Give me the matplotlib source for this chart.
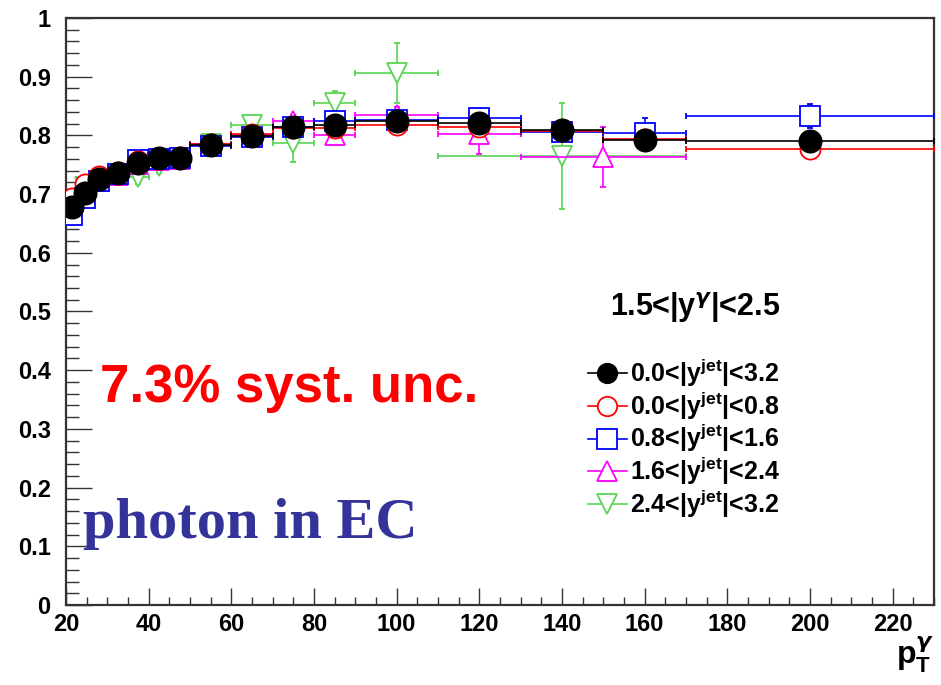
import matplotlib
matplotlib.use('Agg')
import numpy as np
import matplotlib.pyplot as plt
from matplotlib.lines import Line2D
from matplotlib.ticker import MultipleLocator

plt.rcParams['font.family'] = ['Liberation Sans', 'DejaVu Sans']
plt.rcParams['font.weight'] = 'bold'
plt.rcParams['mathtext.fontset'] = 'custom'
plt.rcParams['mathtext.rm'] = 'Liberation Sans:bold'
plt.rcParams['mathtext.bf'] = 'Liberation Sans:bold'
plt.rcParams['mathtext.it'] = 'DejaVu Sans:italic'

# bin edges (pT of photon) and values
edges_full = [20, 23, 26, 30, 35, 40, 45, 50, 60, 70, 80, 90, 110, 130, 150, 170, 230]
edges_mag = [20, 23, 26, 30, 35, 40, 45, 50, 60, 70, 80, 90, 110, 130, 170]
edges_green = [20, 23, 26, 30, 35, 40, 45, 50, 60, 70, 80, 90, 110, 170]

y_all = [0.678, 0.702, 0.726, 0.736, 0.753, 0.761, 0.761, 0.784, 0.799, 0.815,
         0.818, 0.825, 0.821, 0.809, 0.792, 0.790]
e_all = [0.004, 0.004, 0.004, 0.004, 0.004, 0.004, 0.004, 0.004, 0.005, 0.005,
         0.006, 0.006, 0.008, 0.008, 0.010, 0.008]

y_red = [0.693, 0.718, 0.730, 0.738, 0.757, 0.762, 0.763, 0.786, 0.802, 0.813,
         0.812, 0.818, 0.815, 0.807, 0.794, 0.777]
e_red = [0.006, 0.006, 0.006, 0.006, 0.006, 0.006, 0.006, 0.006, 0.007, 0.008,
         0.008, 0.009, 0.010, 0.012, 0.014, 0.010]

y_blue = [0.665, 0.694, 0.722, 0.735, 0.758, 0.760, 0.762, 0.782, 0.797, 0.815,
          0.825, 0.826, 0.830, 0.806, 0.804, 0.833]
e_blue = [0.008, 0.007, 0.006, 0.006, 0.006, 0.006, 0.006, 0.006, 0.008, 0.008,
          0.009, 0.010, 0.012, 0.015, 0.025, 0.020]

y_mag = [0.672, 0.700, 0.722, 0.733, 0.752, 0.758, 0.760, 0.785, 0.800, 0.825,
         0.800, 0.834, 0.803, 0.763]
e_mag = [0.008, 0.007, 0.007, 0.007, 0.007, 0.007, 0.007, 0.008, 0.009, 0.010,
         0.012, 0.014, 0.035, 0.051]

y_green = [0.685, 0.712, 0.722, 0.735, 0.729, 0.748, 0.758, 0.786, 0.818, 0.787,
           0.855, 0.906, 0.765]
e_green = [0.010, 0.010, 0.010, 0.010, 0.012, 0.012, 0.012, 0.012, 0.015, 0.033,
           0.021, 0.051, 0.090]

labels = [r'0.0<|y$^{\rm jet}$|<3.2', r'0.0<|y$^{\rm jet}$|<0.8',
          r'0.8<|y$^{\rm jet}$|<1.6', r'1.6<|y$^{\rm jet}$|<2.4',
          r'2.4<|y$^{\rm jet}$|<3.2']

series = [
    (edges_green, y_green, e_green, '#59d454', 'v', 'white'),
    (edges_mag, y_mag, e_mag, '#ff00ff', '^', 'white'),
    (edges_full, y_blue, e_blue, '#0000ff', 's', 'white'),
    (edges_full, y_red, e_red, '#ff0000', 'o', 'white'),
    (edges_full, y_all, e_all, 'black', 'o', 'black'),
]

W, H = 941, 685
fig = plt.figure(figsize=(W / 100, H / 100), dpi=100)
ax = fig.add_axes([66 / W, 1 - 605 / H, (934 - 66) / W, (605 - 18) / H])

for i, (edges, yv, ev, col, mk, face) in enumerate(series):
    edges = np.array(edges, dtype=float)
    xc = (edges[:-1] + edges[1:]) / 2
    xe = (edges[1:] - edges[:-1]) / 2
    ms = 16 if face == 'black' else 14.5
    ax.errorbar(xc, yv, xerr=xe, yerr=ev, fmt=mk, color=col, ms=ms,
                mfc=face, mec=col, mew=1.3, elinewidth=1.2, capsize=2.5,
                capthick=1.2, zorder=3 + i)

ax.set_xlim(20, 230)
ax.set_ylim(0, 1)
ax.xaxis.set_major_locator(MultipleLocator(20))
ax.xaxis.set_minor_locator(MultipleLocator(5))
ax.yaxis.set_major_locator(MultipleLocator(0.1))
ax.yaxis.set_minor_locator(MultipleLocator(0.02))
ax.yaxis.set_major_formatter(plt.FuncFormatter(
    lambda v, p: '0' if abs(v) < 1e-9 else ('1' if abs(v - 1) < 1e-9 else '%.1f' % v)))
ax.tick_params(axis='both', which='both', direction='in', top=False, right=False,
               color='#333333', width=1.0)
ax.tick_params(axis='y', which='major', length=19, labelsize=17, pad=11)
ax.tick_params(axis='y', which='minor', length=9.5)
ax.tick_params(axis='x', which='major', length=12, pad=6, labelsize=17)
ax.tick_params(axis='x', which='minor', length=6)
for sp in ax.spines.values():
    sp.set_linewidth(1.6)
    sp.set_color('#333333')

handles = []
for edges, yv, ev, col, mk, face in series[::-1]:
    handles.append(Line2D([], [], color=col, marker=mk, ms=14, mfc=face, mec=col,
                          mew=1.3, lw=1.2))
fig.legend(handles, labels, loc='upper left', bbox_to_anchor=(588 / W, 1 - 357 / H),
           frameon=False, fontsize=18, handlelength=1.55, handletextpad=0.15,
           labelspacing=0.02, borderpad=0, borderaxespad=0)

fig.text(610 / W, 1 - 316 / H, r'1.5<|y$^{\gamma}$|<2.5', fontsize=22,
         fontweight='bold', va='baseline')
fig.text(100 / W, 1 - 402 / H, '7.3% syst. unc.', fontsize=38, color='#ff0000',
         fontweight='bold', va='baseline')
fig.text(83 / W, 1 - 538 / H, 'photon in EC', fontsize=42, color='#333399',
         family=['Liberation Serif', 'DejaVu Serif'], fontweight='bold',
         va='baseline')
fig.text(934 / W, 1 - 664 / H, r'p$_{\rm T}^{\gamma}$', fontsize=23,
         fontweight='bold', ha='right', va='baseline')

fig.savefig('out.png', dpi=100)
